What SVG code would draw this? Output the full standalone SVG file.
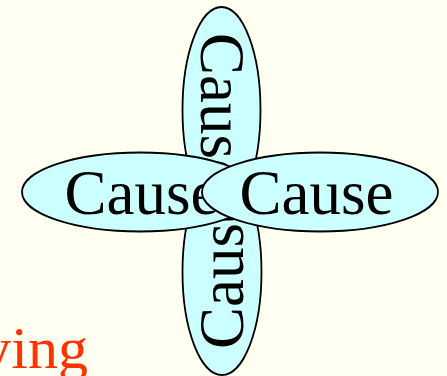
<svg xmlns="http://www.w3.org/2000/svg" width="447" height="376" viewBox="0 0 447 376">
<style>
.n ellipse{fill:#CCFFFF;stroke:#000;stroke-width:1.8}
.n text{font-family:"Liberation Serif","Times New Roman",serif;font-size:63px;fill:#000;text-anchor:middle}
.lbl{font-family:"Liberation Serif","Times New Roman",serif;font-size:60px;fill:#FF3300;text-anchor:end}
</style>
<rect width="447" height="376" fill="#FFFFF2"/>
<text class="lbl" x="88" y="368">ying</text>
<g id="connectors"/>
<g id="node-top" class="n">
<ellipse cx="221.5" cy="110" rx="39" ry="103"/>
<text transform="translate(221.5,110) rotate(90)" x="0" y="21">Cause</text>
</g>
<g id="node-bottom" class="n">
<ellipse cx="222" cy="272" rx="39.5" ry="103"/>
<text transform="translate(222,272) rotate(-90)" x="0" y="21">Cause</text>
</g>
<g id="node-left" class="n">
<ellipse cx="140" cy="192" rx="118" ry="39.5"/>
<text x="141.5" y="214">Cause</text>
</g>
<g id="node-right" class="n">
<ellipse cx="320" cy="192" rx="118" ry="39.5"/>
<text x="316.5" y="214">Cause</text>
</g>
</svg>
